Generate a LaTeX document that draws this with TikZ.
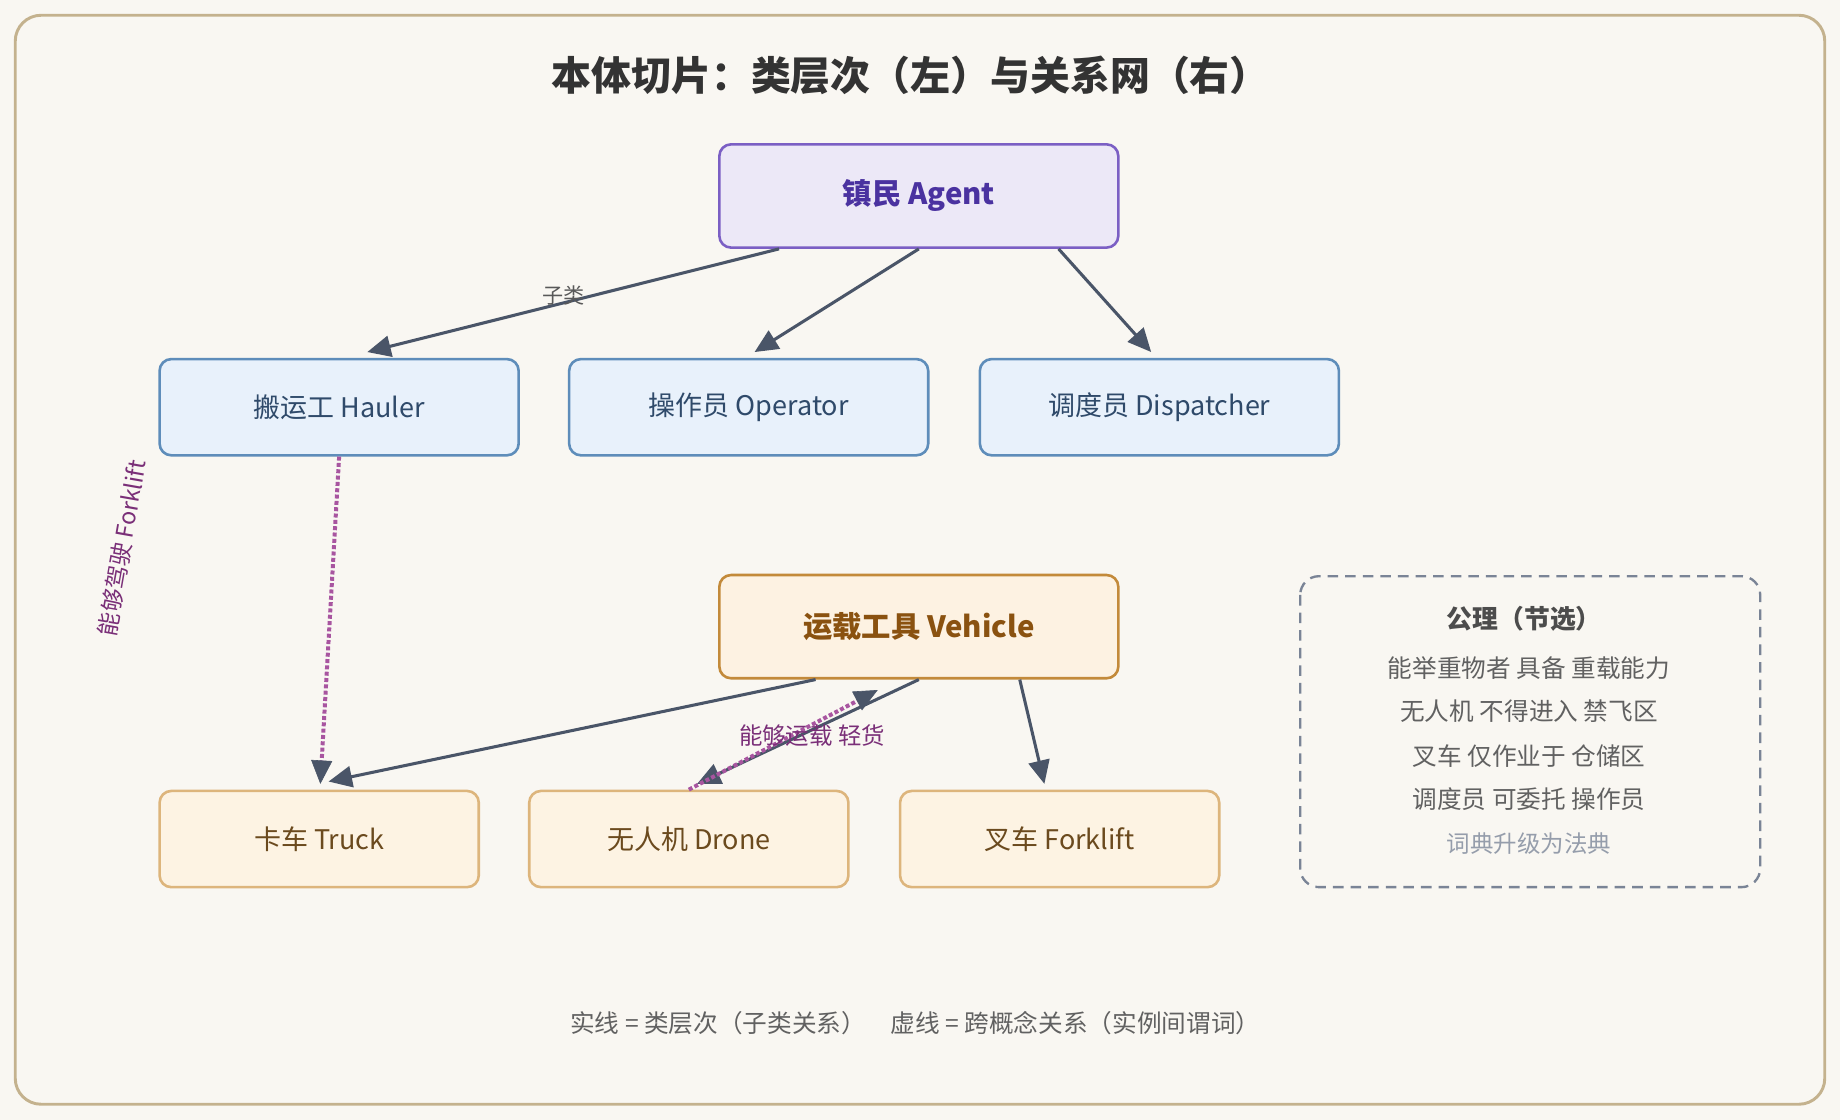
\documentclass[tikz,border=0pt]{standalone}
\usepackage{fontspec}
\setmainfont{Noto Sans CJK SC}
\usetikzlibrary{arrows.meta}
\definecolor{bg}{HTML}{F9F7F2}
\definecolor{frame}{HTML}{C4B28E}
\definecolor{agentf}{HTML}{ECE8F7}\definecolor{agentd}{HTML}{7B5FC4}\definecolor{agentt}{HTML}{4A32A0}
\definecolor{subf}{HTML}{E8F1FB}\definecolor{subd}{HTML}{5E8DBA}\definecolor{subt}{HTML}{2F4A6A}
\definecolor{vehf}{HTML}{FDF2E2}\definecolor{vehd}{HTML}{C38A3A}\definecolor{veht}{HTML}{8A5210}
\definecolor{leaff}{HTML}{FDF3E3}\definecolor{leafd}{HTML}{DDB57C}\definecolor{leaft}{HTML}{6B4A1E}
\definecolor{edge}{HTML}{4A5568}\definecolor{rel}{HTML}{A855A0}\definecolor{relt}{HTML}{7A2F78}
\definecolor{ax}{HTML}{7A8496}
\begin{document}
\begin{tikzpicture}[x=1pt,y=-1pt,
 box/.style={rounded corners=10pt,line width=2.2pt,minimum width=#1,minimum height=82pt,font=\fontsize{23}{27}\selectfont},
 sub/.style={box=306pt,draw=subd,fill=subf,text=subt},
 leaf/.style={box=272pt,draw=leafd,fill=leaff,text=leaft},
 isa/.style={draw=edge,line width=2.6pt,-{Triangle[length=20pt,width=18pt]}},
 rl/.style={draw=rel,line width=3.4pt,dotted,-{Triangle[length=20pt,width=18pt,fill=edge,color=edge,line width=0.5pt,sep=0pt]}}]
\useasboundingbox (0,0) rectangle (1568,954);
\fill[bg] (0,0) rectangle (1568,954);
\draw[frame,line width=2.5pt,fill=bg,rounded corners=22pt] (13,13) rectangle (1555,941);
\node[font=\fontsize{34}{38}\selectfont\bfseries,text=black!80] (title) at (776,64) {本体切片：类层次（左）与关系网（右）};
\node[box=340pt,minimum height=88pt,draw=agentd,fill=agentf,text=agentt,font=\fontsize{25}{29}\selectfont\bfseries] (agent) at (783,167) {镇民 Agent};
\node[sub] (haul) at (289,347) {搬运工 Hauler};
\node[sub] (op) at (638,347) {操作员 Operator};
\node[sub] (disp) at (988,347) {调度员 Dispatcher};
\node[box=340pt,minimum height=88pt,draw=vehd,fill=vehf,text=veht,font=\fontsize{25}{29}\selectfont\bfseries] (veh) at (783,534) {运载工具 Vehicle};
\node[leaf] (truck) at (272,715) {卡车 Truck};
\node[leaf] (drone) at (587,715) {无人机 Drone};
\node[leaf] (fork) at (903,715) {叉车 Forklift};
\draw[isa] ([xshift=52pt]agent.south west) -- (313,300);
\node[font=\fontsize{18}{20}\selectfont,text=black!65] (lab1) at (480,252) {子类};
\draw[isa] (agent.south) -- (643,300);
\draw[isa] ([xshift=-52pt]agent.south east) -- (981,300);
\draw[isa] ([xshift=-88pt]veh.south) -- (280,666);
\draw[isa] (veh.south) -- (594,668);
\draw[isa] ([xshift=86pt]veh.south) -- (890,668);
\draw[rl] (haul.south) -- (273,668);
\draw[rl] (drone.north) -- (748,588);
\node[font=\fontsize{20}{23}\selectfont,text=relt] (lab2) at (692,627) {能够运载 轻货};
\node[font=\fontsize{20}{23}\selectfont\itshape,text=relt,rotate=80] (lab3) at (104,467) {能够驾驶 Forklift};
\draw[ax,line width=2pt,dash pattern=on 9pt off 6pt,rounded corners=16pt] (1108,491) rectangle (1500,756);
\node[font=\fontsize{22}{25}\selectfont\bfseries,text=black!70] (axt) at (1299,527) {公理（节选）};
\begin{scope}[every node/.style={font=\fontsize{21}{25}\selectfont,text=black!62}]
\node (ax1) at (1303,569) {能举重物者 具备 重载能力};
\node (ax2) at (1303,606) {无人机 不得进入 禁飞区};
\node (ax3) at (1303,644) {叉车 仅作业于 仓储区};
\node (ax4) at (1303,681) {调度员 可委托 操作员};
\end{scope}
\node[font=\fontsize{20}{23}\selectfont,text=ax!80] (ax5) at (1303,719) {词典升级为法典};
\node[font=\fontsize{21}{25}\selectfont,text=black!62] (foot) at (780,872) {实线 = 类层次（子类关系）\quad 虚线 = 跨概念关系（实例间谓词）};
\end{tikzpicture}
\end{document}
